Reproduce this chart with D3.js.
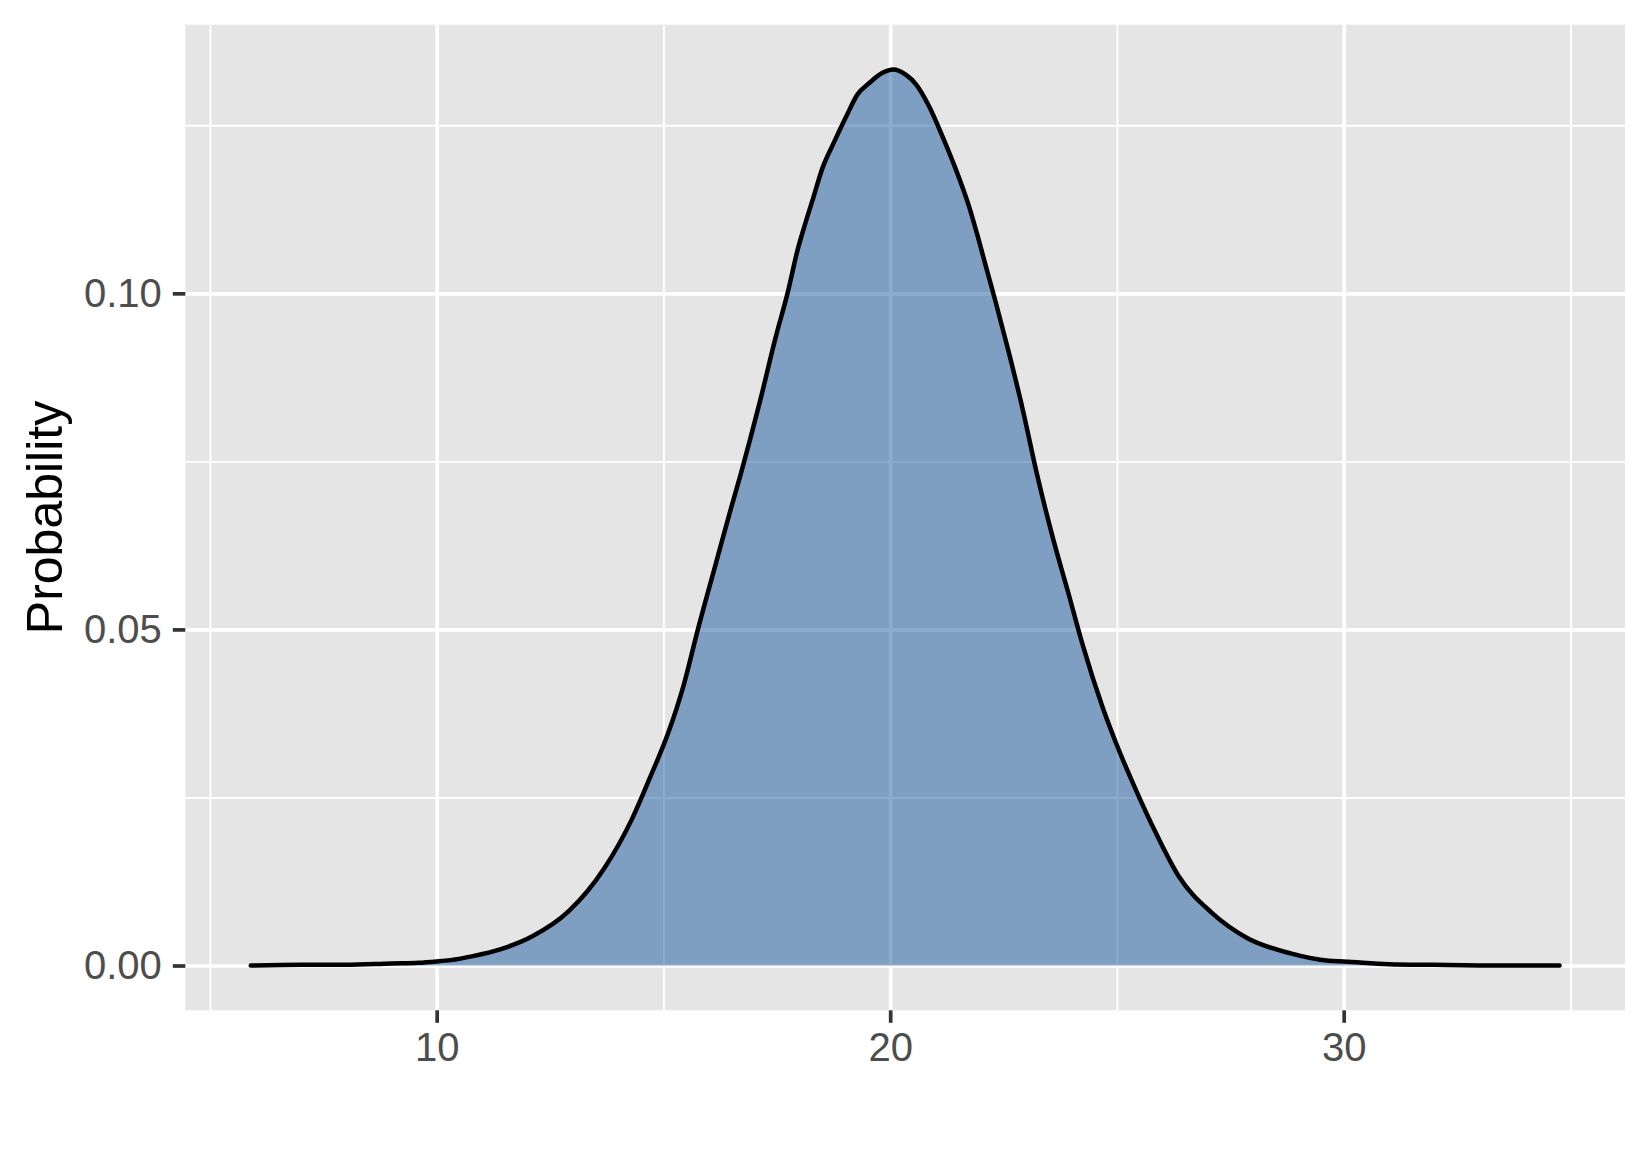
<!DOCTYPE html>
<html>
<head>
<meta charset="utf-8">
<script src="https://cdn.jsdelivr.net/npm/d3@7"></script>
<style>
  body { margin: 0; background: #fff; }
  svg { display: block; font-family: "Liberation Sans", Arial, sans-serif; }
</style>
</head>
<body>
<div id="chart"></div>
<script>
// density curve
const densityX = [5.9, 7.0, 8.0, 9.0, 9.6, 10.0, 10.3, 10.8, 11.4, 12.1, 12.9, 13.7, 14.3, 14.7,
  15.1, 15.45, 15.76, 16.16, 16.46, 16.7, 17.12, 17.48, 17.74, 17.96, 18.11, 18.29, 18.51,
  18.77, 19.03, 19.28, 19.54, 19.83, 20.07, 20.35, 20.57, 20.86, 21.15, 21.45, 21.74, 21.93,
  22.11, 22.33, 22.62, 22.92, 23.24, 23.58, 23.95, 24.24, 24.68, 24.98, 25.42, 25.86, 26.37,
  27.1, 27.87, 28.83, 29.67, 30.0, 31.0, 32.0, 33.5, 34.76];
const densityY = [0.0000, 0.0001, 0.0001, 0.0003, 0.0004, 0.0006, 0.0008, 0.0014, 0.0024, 0.0043,
  0.0080, 0.0145, 0.0217, 0.0279, 0.0345, 0.0418, 0.0500, 0.0599, 0.0673, 0.0730, 0.0837,
  0.0936, 0.1001, 0.1065, 0.1100, 0.1139, 0.1187, 0.1226, 0.1263, 0.1296, 0.1313, 0.1328,
  0.1333, 0.1325, 0.1311, 0.1278, 0.1234, 0.1184, 0.1129, 0.1085, 0.1040, 0.0986, 0.0911,
  0.0828, 0.0730, 0.0638, 0.0549, 0.0478, 0.0385, 0.0331, 0.0261, 0.0197, 0.0132, 0.0078,
  0.0041, 0.0018, 0.0007, 0.0006, 0.0002, 0.0001, 0.0000, 0.0000];

const xTicks = [10, 20, 30];
const xMinor = [5, 15, 25, 35];
const yTicks = [0, 0.05, 0.10];
const yMinor = [0.025, 0.075, 0.125];
const yTitle = "Probability";

const drawChart = () => {
    const W = 1650, H = 1155;
    const panel = { left: 185.3, right: 1625, top: 24.7, bottom: 1010.3 };

    const data = densityX.map((d, i) => ({ x: d, y: densityY[i] }));

    // ggplot style 5% expansion
    const xExt = d3.extent(densityX);
    const xPad = (xExt[1] - xExt[0]) * 0.05;
    const yMax = d3.max(densityY);
    const yPad = yMax * 0.05;

    const x = d3.scaleLinear().domain([xExt[0] - xPad, xExt[1] + xPad]).range([panel.left, panel.right]);
    const y = d3.scaleLinear().domain([-yPad, yMax + yPad]).range([panel.bottom, panel.top]);

    const svg = d3.select("#chart")
        .append("svg")
        .attr("width", W)
        .attr("height", H);

    svg.append("rect").attr("width", W).attr("height", H).attr("fill", "#fff");

    // panel background
    svg.append("rect")
        .attr("x", panel.left)
        .attr("y", panel.top)
        .attr("width", panel.right - panel.left)
        .attr("height", panel.bottom - panel.top)
        .attr("fill", "#E5E5E5");

    const pw = panel.right - panel.left;
    const ph = panel.bottom - panel.top;

    // minor gridlines
    svg.append("g")
        .attr("class", "grid")
        .attr("transform", `translate(0,${panel.bottom})`)
        .call(d3.axisBottom(x).tickValues(xMinor).tickSize(-ph).tickFormat(""));
    svg.append("g")
        .attr("class", "grid")
        .attr("transform", `translate(${panel.left},0)`)
        .call(d3.axisLeft(y).tickValues(yMinor).tickSize(-pw).tickFormat(""));
    svg.selectAll(".grid line").attr("stroke", "#fff").attr("stroke-width", 1.9);

    // major gridlines
    svg.append("g")
        .attr("class", "gridMajor")
        .attr("transform", `translate(0,${panel.bottom})`)
        .call(d3.axisBottom(x).tickValues(xTicks).tickSize(-ph).tickFormat(""));
    svg.append("g")
        .attr("class", "gridMajor")
        .attr("transform", `translate(${panel.left},0)`)
        .call(d3.axisLeft(y).tickValues(yTicks).tickSize(-pw).tickFormat(""));
    svg.selectAll(".gridMajor line").attr("stroke", "#fff").attr("stroke-width", 3.7);
    svg.selectAll(".grid .domain, .gridMajor .domain").remove();

    // density area + outline
    const area = d3.area()
        .x(d => x(d.x))
        .y0(y(0))
        .y1(d => y(d.y))
        .curve(d3.curveMonotoneX);

    const line = d3.line()
        .x(d => x(d.x))
        .y(d => y(d.y))
        .curve(d3.curveMonotoneX);

    svg.append("path")
        .datum(data)
        .attr("fill", "#17599F")
        .attr("fill-opacity", 0.5)
        .attr("d", area);

    svg.append("path")
        .datum(data)
        .attr("fill", "none")
        .attr("stroke", "#000")
        .attr("stroke-width", 4.5)
        .attr("stroke-linecap", "round")
        .attr("stroke-linejoin", "round")
        .attr("d", line);

    // axes
    const xAxis = svg.append("g")
        .attr("transform", `translate(0,${panel.bottom})`)
        .call(d3.axisBottom(x).tickValues(xTicks).tickSize(12.5).tickPadding(10).tickFormat(d3.format("d")));
    const yAxis = svg.append("g")
        .attr("transform", `translate(${panel.left},0)`)
        .call(d3.axisLeft(y).tickValues(yTicks).tickSize(12.5).tickPadding(11).tickFormat(d3.format(".2f")));

    [xAxis, yAxis].forEach(g => {
        g.select(".domain").remove();
        g.selectAll("line").attr("stroke", "#333333").attr("stroke-width", 3.7);
        g.selectAll("text")
            .attr("fill", "#4D4D4D")
            .attr("font-size", "40px")
            .attr("font-family", "Liberation Sans, Arial, sans-serif");
    });
    xAxis.selectAll("text").attr("dy", "0.71em");

    // y title
    svg.append("text")
        .attr("transform", `translate(62,${(panel.top + panel.bottom) / 2}) rotate(-90)`)
        .attr("text-anchor", "middle")
        .attr("font-size", "50px")
        .attr("fill", "#000")
        .text(yTitle);
};

drawChart();
</script>
</body>
</html>
